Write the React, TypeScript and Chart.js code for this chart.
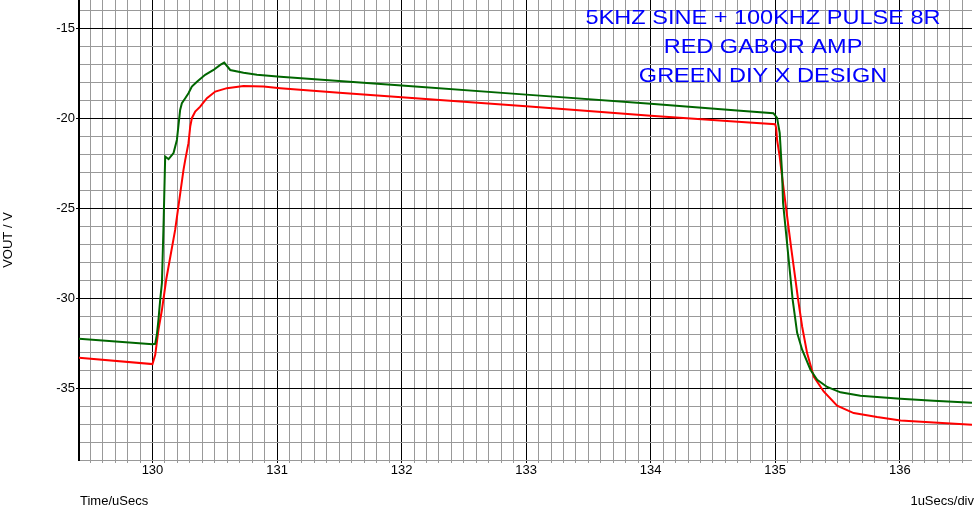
import React, { useEffect, useRef } from "react";
import { Chart, registerables } from "chart.js";

Chart.register(...registerables);

// Time in microseconds, VOUT in volts
const redX = [129.41, 130.0, 130.022, 130.048, 130.076, 130.11, 130.182, 130.249, 130.263, 130.289, 130.303, 130.316, 130.343, 130.383, 130.437, 130.504, 130.598, 130.731, 130.892, 131.026, 131.5, 132.0, 133.0, 134.0, 134.7, 135.0, 135.008, 135.015, 135.036, 135.055, 135.082, 135.13, 135.184, 135.216, 135.256, 135.309, 135.389, 135.497, 135.63, 135.818, 136.006, 136.273, 136.58];
const redY = [-33.32, -33.67, -33.15, -31.76, -30.65, -28.98, -26.21, -22.87, -22.32, -21.39, -20.47, -20.0, -19.63, -19.36, -18.89, -18.52, -18.33, -18.21, -18.24, -18.33, -18.58, -18.83, -19.34, -19.86, -20.2, -20.33, -20.56, -21.21, -22.13, -23.24, -24.72, -27.3, -30.09, -31.58, -33.06, -34.36, -35.19, -35.98, -36.39, -36.61, -36.8, -36.91, -37.04];

const greenX = [129.41, 130.0, 130.022, 130.035, 130.048, 130.062, 130.076, 130.09, 130.102, 130.129, 130.169, 130.196, 130.222, 130.236, 130.263, 130.289, 130.316, 130.357, 130.423, 130.49, 130.544, 130.576, 130.624, 130.731, 130.839, 131.026, 132.0, 133.0, 134.0, 134.72, 134.985, 135.015, 135.036, 135.055, 135.063, 135.1, 135.14, 135.176, 135.216, 135.283, 135.337, 135.417, 135.524, 135.684, 136.006, 136.271, 136.58];
const greenY = [-32.26, -32.56, -32.54, -32.04, -31.21, -30.09, -29.15, -25.6, -22.13, -22.28, -21.94, -21.21, -19.54, -19.17, -18.89, -18.61, -18.24, -17.97, -17.59, -17.32, -17.04, -16.91, -17.32, -17.47, -17.59, -17.69, -18.18, -18.69, -19.2, -19.58, -19.72, -19.98, -20.82, -23.04, -24.71, -27.3, -30.09, -31.93, -32.87, -33.98, -34.54, -34.94, -35.24, -35.43, -35.59, -35.71, -35.82];

const xTickLabels = [130, 131, 132, 133, 134, 135, 136];
const yTickLabels = [-15, -20, -25, -30, -35];
const xRange = [129.41, 136.58];
const yRange = [-39, -13.43];

const titleLines = ["5KHZ SINE + 100KHZ PULSE 8R", "RED GABOR AMP", "GREEN DIY X DESIGN"];
const xAxisLeftText = "Time/uSecs";
const xAxisRightText = "1uSecs/div";
const yAxisText = "VOUT / V";

const FONT = '"Liberation Sans", Arial, sans-serif';

const isMajorX = (v: number) => xTickLabels.some((t) => Math.abs(t - v) < 1e-6);
const isMajorY = (v: number) => yTickLabels.some((t) => Math.abs(t - v) < 1e-6);

const textPlugin = {
  id: "texts",
  afterDraw(chart: any) {
    const ctx = chart.ctx as CanvasRenderingContext2D;
    const area = chart.chartArea;
    ctx.save();
    ctx.fillStyle = "#0000FF";
    ctx.font = `21px ${FONT}`;
    ctx.textAlign = "center";
    ctx.textBaseline = "alphabetic";
    titleLines.forEach((line, i) => {
      ctx.save();
      ctx.translate(763, 23.5 + i * 29);
      ctx.scale(1.12, 1);
      ctx.fillText(line, 0, 0);
      ctx.restore();
    });
    ctx.fillStyle = "#000";
    ctx.font = `13px ${FONT}`;
    ctx.textAlign = "left";
    ctx.fillText(xAxisLeftText, area.left + 1, 505);
    ctx.textAlign = "right";
    ctx.fillText(xAxisRightText, 974, 505);
    ctx.save();
    ctx.translate(12, 240);
    ctx.rotate(-Math.PI / 2);
    ctx.textAlign = "center";
    ctx.fillText(yAxisText, 0, 0);
    ctx.restore();
    ctx.restore();
  },
};

export default function App() {
  const ref = useRef<HTMLCanvasElement | null>(null);
  useEffect(() => {
    if (!ref.current) return;
    const red = redX.map((x, i) => ({ x, y: redY[i] }));
    const green = greenX.map((x, i) => ({ x, y: greenY[i] }));
    const chart = new Chart(ref.current, {
      type: "scatter",
      data: {
        datasets: [
          { label: "DIY X DESIGN", data: green, showLine: true, borderColor: "#006600", backgroundColor: "#006600", borderWidth: 2, pointRadius: 0, tension: 0 },
          { label: "GABOR AMP", data: red, showLine: true, borderColor: "#FF0000", backgroundColor: "#FF0000", borderWidth: 2, pointRadius: 0, tension: 0 },
        ],
      },
      options: {
        animation: false,
        responsive: false,
        devicePixelRatio: 1,
        layout: { padding: { left: 0, right: 3, top: 0, bottom: 0 } },
        plugins: { legend: { display: false }, tooltip: { enabled: false }, title: { display: false } },
        scales: {
          x: {
            type: "linear",
            min: xRange[0],
            max: xRange[1],
            afterBuildTicks: (scale: any) => {
              const t: any[] = [];
              for (let i = Math.ceil(xRange[0] * 10); i <= Math.floor(xRange[1] * 10); i++) t.push({ value: i / 10 });
              scale.ticks = t;
            },
            afterFit: (scale: any) => {
              scale.height = 49;
              scale.paddingLeft = 0;
              scale.paddingRight = 0;
            },
            border: { display: false },
            grid: {
              color: (c: any) => (isMajorX(c.tick.value) ? "#000000" : "#999999"),
              tickColor: (c: any) => (isMajorX(c.tick.value) ? "#000000" : "#999999"),
              lineWidth: 1,
              drawTicks: true,
              tickLength: 3,
            },
            ticks: {
              autoSkip: false,
              maxRotation: 0,
              padding: 0,
              color: "#000",
              font: { family: FONT, size: 13 },
              callback: (v: any) => (isMajorX(Number(v)) ? String(Math.round(Number(v))) : ""),
            },
          },
          y: {
            type: "linear",
            min: yRange[0],
            max: yRange[1],
            afterBuildTicks: (scale: any) => {
              const t: any[] = [];
              for (let i = Math.ceil(yRange[0]); i <= Math.floor(yRange[1]); i++) t.push({ value: i });
              scale.ticks = t;
            },
            afterFit: (scale: any) => {
              scale.width = 79;
              scale.paddingTop = 0;
              scale.paddingBottom = 0;
            },
            border: { display: true, color: "#000000", width: 2 },
            grid: {
              color: (c: any) => (isMajorY(c.tick.value) ? "#000000" : "#999999"),
              tickColor: (c: any) => (isMajorY(c.tick.value) ? "#000000" : "rgba(0,0,0,0)"),
              lineWidth: 1,
              drawTicks: true,
              tickLength: 3,
            },
            ticks: {
              autoSkip: false,
              padding: 1,
              color: "#000",
              font: { family: FONT, size: 13 },
              callback: (v: any) => (isMajorY(Number(v)) ? String(Math.round(Number(v))) : ""),
            },
          },
        },
      },
      plugins: [textPlugin],
    } as any);
    return () => chart.destroy();
  }, []);
  return (
    <div style={{ position: "fixed", left: 0, top: 0, width: 975, height: 509, background: "#fff" }}>
      <canvas ref={ref} width={975} height={509} style={{ width: 975, height: 509, display: "block" }} />
    </div>
  );
}
